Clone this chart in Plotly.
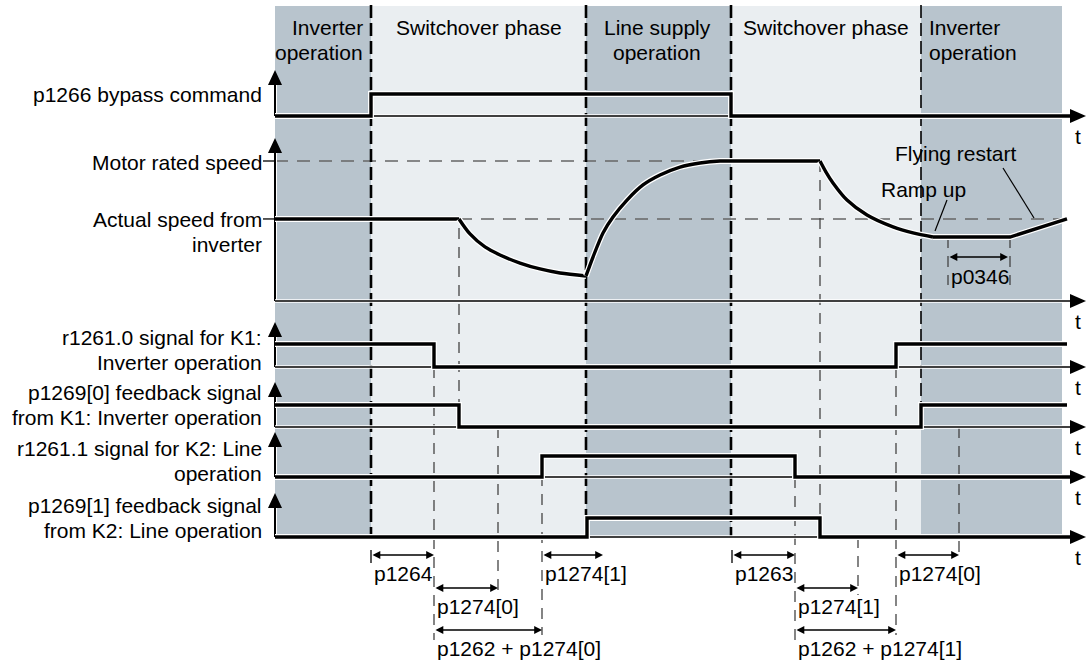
import plotly.graph_objects as go

FONT = "Liberation Sans, Arial, sans-serif"

# ---- data -------------------------------------------------------------
# time stamps along the diagram's t axis
phase_edges = [275, 371, 586, 731, 921, 1062]
phase_dark = [True, False, True, False, True]
phase_labels = ["Inverter\noperation", "Switchover phase", "Line supply\noperation",
                "Switchover phase", "Inverter\noperation"]

row_labels = ["p1266 bypass command", "Motor rated speed", "Actual speed from\ninverter",
              "r1261.0 signal for K1:\nInverter operation",
              "p1269[0] feedback signal\nfrom K1: Inverter operation",
              "r1261.1 signal for K2: Line\noperation",
              "p1269[1] feedback signal\nfrom K2: Line operation"]

# digital signals (0 = low, 1 = high), step after each time stamp
bypass_t = [275, 371, 731, 1072]
bypass_v = [0, 1, 0, 0]
k1_cmd_t = [275, 434, 896, 1067]
k1_cmd_v = [1, 0, 1, 1]
k1_fb_t = [275, 459, 921, 1067]
k1_fb_v = [1, 0, 1, 1]
k2_cmd_t = [275, 542, 795, 1072]
k2_cmd_v = [0, 1, 0, 0]
k2_fb_t = [275, 587, 820, 1072]
k2_fb_v = [0, 1, 0, 0]

# speed, as fraction of rated speed
actual_speed = 0.586
hold_t = [275, 459]
hold_v = [0.586, 0.586]
decel1_t = [459, 470, 485, 500, 520, 540, 560, 586]
decel1_v = [0.586, 0.479, 0.386, 0.329, 0.271, 0.229, 0.200, 0.179]
accel_t = [586, 593, 603, 613, 627, 643, 660, 680, 700, 720, 731, 820]
accel_v = [0.179, 0.314, 0.486, 0.600, 0.721, 0.829, 0.900, 0.957, 0.986, 1.0, 1.0, 1.0]
decel2_t = [820, 826, 833, 847, 867, 893, 913, 933]
decel2_v = [1.0, 0.921, 0.843, 0.721, 0.614, 0.529, 0.486, 0.457]
restart_t = [933, 1010, 1067]
restart_v = [0.457, 0.457, 0.586]

# time intervals shown below the diagram: (start, end, label)
intervals_row1 = [(371, 434, "p1264"), (542, 603, "p1274[1]"), (732, 795, "p1263"), (896, 959, "p1274[0]")]
intervals_row2 = [(434, 498, "p1274[0]"), (795, 858, "p1274[1]")]
intervals_row3 = [(434, 542, "p1262 + p1274[0]"), (795, 896, "p1262 + p1274[1]")]
p0346_t = [948, 1010]

# ---- layout of the sheet (pixel positions) -----------------------------
row_base = [116, 301, 367, 427, 477, 537]
row_high = [94, 161, 344, 405, 456, 518]
row_tip = [70, 138, 322, 382, 432, 493]
AX_X = 275
ARROW_END = 1086
SHADE_TOP, SHADE_BOT = 6, 537

fig = go.Figure()


def add_line(xs, ys, width=3.2, color="black", dash=None, halo=0, shape="linear", smoothing=1):
    ln = dict(color=color, width=width, shape=shape)
    if shape == "spline":
        ln["smoothing"] = smoothing
    if dash:
        ln["dash"] = dash
    if halo:
        hl = dict(ln, color="white", width=width + halo)
        hl.pop("dash", None)
        fig.add_trace(go.Scatter(x=xs, y=ys, mode="lines", line=hl, hoverinfo="skip"))
    fig.add_trace(go.Scatter(x=xs, y=ys, mode="lines", line=ln, hoverinfo="skip"))


def lvl(row, v):
    return row_base[row] - v * (row_base[row] - row_high[row])


def tri_up(x, y):
    return f"M {x},{y} L {x-7},{y+15} L {x+7},{y+15} Z"


def tri_right(x, y):
    return f"M {x},{y} L {x-16},{y-7} L {x-16},{y+7} Z"


# phase shading
for i, dark in enumerate(phase_dark):
    fig.add_shape(type="rect", x0=phase_edges[i], x1=phase_edges[i + 1], y0=SHADE_TOP, y1=SHADE_BOT,
                  fillcolor="#b8c4cd" if dark else "#eaeef1", line_width=0, layer="below")

# horizontal reference dashes on speed row
add_line([AX_X, phase_edges[3]], [lvl(1, 1), lvl(1, 1)], width=1.6, color="#666", dash="13px,9px")
add_line([hold_t[1], restart_t[-1]], [lvl(1, actual_speed)] * 2, width=1.6, color="#666", dash="13px,9px")

# thin grey dashed helper lines
helpers = [(434, 367, 640), (459, 228, 405), (498, 427, 595), (542, 456, 635),
           (795, 477, 640), (820, 161, 518), (858, 537, 595), (896, 367, 635),
           (959, 427, 553), (p0346_t[0], 237, 285), (p0346_t[1], 237, 285)]
hx, hy = [], []
for x, a, b in helpers:
    hx += [x, x, None]
    hy += [a, b, None]
add_line(hx, hy, width=1.3, color="#444", dash="11px,8px")

# phase boundary dashes
for x, bot, w in [(371, 537, 2.6), (586, 518, 2.6), (731, 537, 2.6), (921, 405, 1.6)]:
    add_line([x, x], [5, bot], width=w, color="black", dash="13px,5px")

# axes
for r in range(6):
    add_line([AX_X, AX_X], [row_base[r], row_tip[r] + 10], width=2, halo=2)
    add_line([AX_X, ARROW_END - 10], [row_base[r], row_base[r]], width=1.6, halo=2)
    fig.add_shape(type="path", path=tri_up(AX_X, row_tip[r]), fillcolor="black", line_width=0)
    fig.add_shape(type="path", path=tri_right(ARROW_END, row_base[r]), fillcolor="black", line_width=0)
    fig.add_annotation(x=1078, y=row_base[r] + 20, text="t", showarrow=False,
                       font=dict(family=FONT, size=21, color="black"))

# label lead lines
add_line([263, AX_X], [lvl(1, 1)] * 2, width=1.3)
add_line([263, AX_X], [lvl(1, actual_speed)] * 2, width=1.3)

# digital signals
for r, (ts, vs) in zip([0, 2, 3, 4, 5], [(bypass_t, bypass_v), (k1_cmd_t, k1_cmd_v),
                                         (k1_fb_t, k1_fb_v), (k2_cmd_t, k2_cmd_v),
                                         (k2_fb_t, k2_fb_v)]):
    add_line(ts, [lvl(r, v) for v in vs], width=3.4, halo=2.5, shape="hv")

# speed curve
add_line(hold_t, [lvl(1, v) for v in hold_v], width=3.4, halo=2.5)
add_line(decel1_t, [lvl(1, v) for v in decel1_v], width=3.4, halo=2.5, shape="spline", smoothing=0.9)
add_line(accel_t, [lvl(1, v) for v in accel_v], width=3.4, halo=2.5, shape="spline", smoothing=0.8)
add_line(decel2_t, [lvl(1, v) for v in decel2_v], width=3.4, halo=2.5, shape="spline", smoothing=0.8)
add_line(restart_t, [lvl(1, v) for v in restart_v], width=3.4, halo=2.5)

# pointer lines for curve notes
add_line([947, 935], [200, 231], width=1.2)
add_line([1003, 1034], [168, 218], width=1.2)

txt = dict(family=FONT, size=21, color="black")


def label(x, y, s, anchor="left"):
    fig.add_annotation(x=x, y=y, text=s, showarrow=False, xanchor=anchor, yanchor="middle", font=txt)


def block(x, y, s, anchor, gap=25.5):
    for i, part in enumerate(s.split("\n")):
        label(x, y + i * gap, part, anchor)


# phase headers
for s, x, anc in zip(phase_labels, [365, 479, 657, 826, 927],
                     ["right", "center", "center", "center", "left"]):
    block(x, 27, s, anc)

# row labels
for s, y in zip(row_labels, [94, 162, 219, 337, 392, 448, 505]):
    block(264, y, s, "right")

label(893, 153, "Flying restart")
label(879, 189, "Ramp up")
label(949, 276, "p0346")


# interval arrows
def interval(a, b, y, s):
    fig.add_annotation(x=b, y=y, ax=a, ay=y, axref="x", ayref="y", text="", showarrow=True,
                       arrowside="end+start", arrowhead=2, arrowsize=1.2, arrowwidth=1.3,
                       arrowcolor="black", standoff=0, startstandoff=0)
    label(a + 1, y + 18, s)


for a, b, s in intervals_row1:
    interval(a, b, 555, s)
for a, b, s in intervals_row2:
    interval(a, b, 588, s)
for a, b, s in intervals_row3:
    interval(a, b, 630, s)
fig.add_annotation(x=p0346_t[1] - 2, y=257, ax=p0346_t[0], ay=257, axref="x", ayref="y", text="",
                   showarrow=True, arrowside="end+start", arrowhead=2, arrowsize=1.2,
                   arrowwidth=1.3, arrowcolor="black", standoff=0, startstandoff=0)
add_line([371, 371], [550, 563], width=1.3)
add_line([732, 732], [550, 563], width=1.3)

fig.update_layout(
    width=1090, height=661,
    margin=dict(l=0, r=0, t=0, b=0),
    paper_bgcolor="white", plot_bgcolor="white",
    showlegend=False,
    xaxis=dict(range=[0, 1090], visible=False, fixedrange=True),
    yaxis=dict(range=[661, 0], visible=False, fixedrange=True),
)

fig.write_html("out.html", config={"displayModeBar": False},
               post_script="document.body.style.margin='0px';")
